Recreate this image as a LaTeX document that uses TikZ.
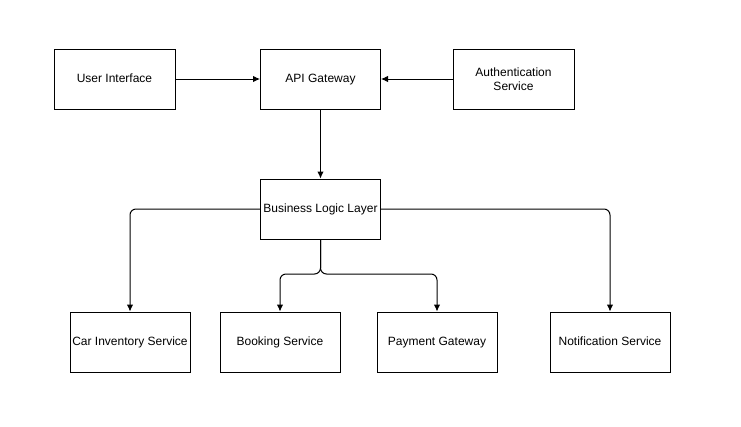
\documentclass[tikz,border=0pt]{standalone}
\usepackage{fontspec}
\setmainfont{Liberation Sans}
\usetikzlibrary{arrows.meta,calc}
\begin{document}
\begin{tikzpicture}[x=1pt,y=-1pt,
  box/.style={draw=black,line width=1pt,minimum width=120pt,minimum height=60pt,inner sep=1pt,align=center,font=\fontsize{12}{14}\selectfont},
  one/.style={text height=8.6pt,text depth=2.6pt},
  arr/.style={draw=black,line width=1pt,-{Latex[length=7pt,width=6.5pt]}},
  rc/.style={rounded corners=6pt}]
\useasboundingbox[fill=white] (0,0) rectangle (741,426);
\node[box,one,minimum width=121pt] (ui) at (114.5,79) {User Interface};
\node[box,one] (api) at (320.5,79) {API Gateway};
\node[box,minimum width=121pt] (auth) at (513.5,79) {Authentication\\Service};
\node[box,one] (bll) at (320.5,209) {Business Logic Layer};
\node[box,one] (car) at (130,342) {Car Inventory Service};
\node[box,one] (book) at (280,342) {Booking Service};
\node[box,one] (pay) at (437,342) {Payment Gateway};
\node[box,one] (notif) at (610,342) {Notification Service};
\coordinate (split) at (320.5,274);
\draw[arr] (ui) -- (api);
\draw[arr] (auth) -- (api);
\draw[arr] (api) -- (bll);
\draw[arr,rc] (bll.west) -| (car.north);
\draw[arr,rc] (bll.east) -| (notif.north);
\draw[arr,rc] (bll.south) -- (split) -| (book.north);
\draw[arr,rc] (bll.south) -- (split) -| (pay.north);
\end{tikzpicture}
\end{document}
